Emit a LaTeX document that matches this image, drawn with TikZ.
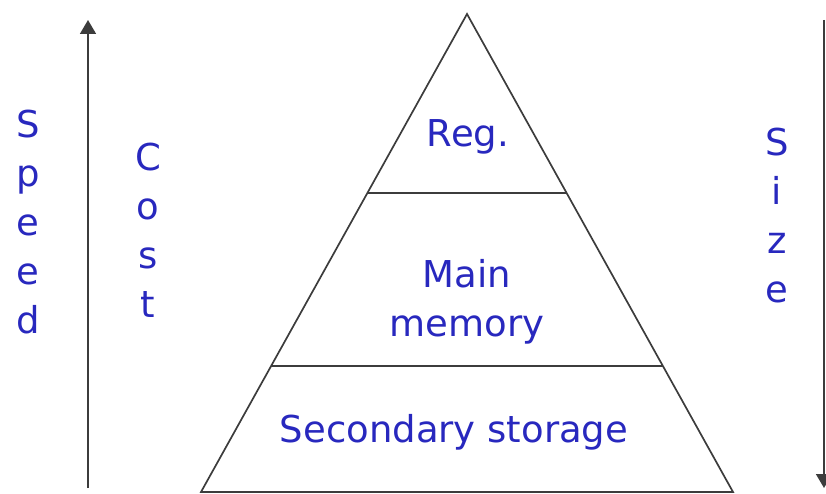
\documentclass[tikz,border=0pt]{standalone}
\usepackage{fontspec}
\usepackage{tikz}
\usetikzlibrary{calc,arrows.meta}
\newfontfamily\handfont{DejaVu Sans}
\definecolor{labelblue}{RGB}{40,40,190}
\definecolor{linegray}{RGB}{60,60,60}

\tikzset{
  tierline/.style={draw=linegray, line width=1.7pt},
  axisline/.style={draw=linegray, line width=1.7pt, -{Triangle[length=14pt,width=16pt]}},
  tiertext/.style={text=labelblue, inner sep=0pt, align=center,
    font=\handfont\fontsize{37}{49}\selectfont},
}

\begin{document}
\begin{tikzpicture}[x=1pt,y=1pt,yscale=-1,xscale=1]
    \useasboundingbox (0,0) rectangle (826,494);

    %Shape: Triangle
    \coordinate (apex) at (467,14);
    \coordinate (baseL) at (201,492);
    \coordinate (baseR) at (733,492);
    \draw [tierline, line join=miter] (baseL) -- (apex) -- (baseR) -- cycle ;

    %Straight Lines (tiers)
    \coordinate (regL) at ($(apex)!0.3745!(baseL)$);
    \coordinate (regR) at ($(apex)!0.3745!(baseR)$);
    \coordinate (memL) at ($(apex)!0.7364!(baseL)$);
    \coordinate (memR) at ($(apex)!0.7364!(baseR)$);
    \draw [tierline] (regL) -- (regR) ;
    \draw [tierline] (memL) -- (memR) ;

    %Straight Lines (axes)
    \coordinate (speedLow) at (88,488);
    \coordinate (speedHigh) at (88,20);
    \coordinate (sizeSmall) at (824,20);
    \coordinate (sizeLarge) at (824,488);
    \draw [axisline] (speedLow) -- (speedHigh) ;
    \draw [axisline] (sizeSmall) -- (sizeLarge) ;

    % Text Node
    \node [tiertext] (reg) at (468,137) {Reg.};
    % Text Node
    \node [tiertext] (mainmem) at (467,302) {Main\\memory};
    % Text Node
    \node [tiertext] (secondary) at (454,432) {Secondary storage};
    % Text Node
    \node [tiertext] (speed) at (28,222) {S\\p\\e\\e\\d};
    % Text Node
    \node [tiertext] (cost) at (148,230) {C\\o\\s\\t};
    % Text Node
    \node [tiertext] (size) at (777,216) {S\\i\\z\\e};
\end{tikzpicture}
\end{document}
